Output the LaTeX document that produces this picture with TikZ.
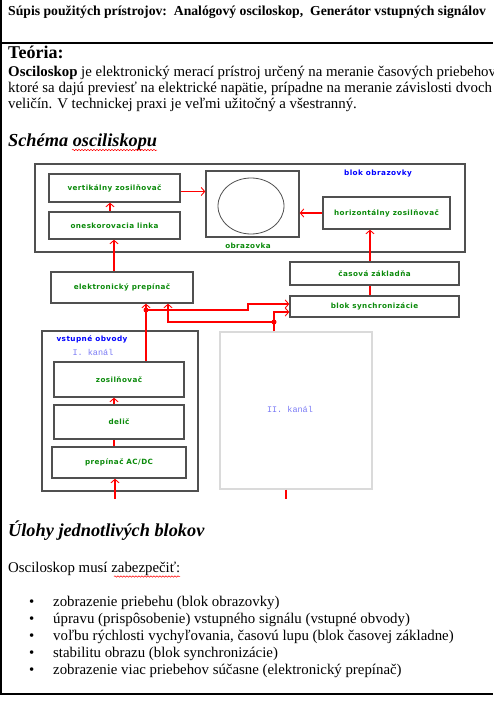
\documentclass[tikz,border=0pt]{standalone}
\usepackage{fontspec}
\setmainfont{Liberation Serif}
\newfontfamily\comic{DejaVu Sans}[LetterSpace=6]
\newfontfamily\cour{Liberation Mono}
\usetikzlibrary{arrows.meta,decorations.pathmorphing}
\definecolor{boxgray}{HTML}{505050}
\definecolor{lightbox}{HTML}{DADADA}
\definecolor{dgreen}{HTML}{0A8A0A}
\definecolor{kblue}{HTML}{7A7AF5}
\tikzset{
  blk/.style={draw=boxgray, line width=1.4pt, fill=white, inner sep=0pt},
  lbl/.style={font=\comic\bfseries\fontsize{7.2}{8}\selectfont, text=dgreen},
  bluelbl/.style={font=\comic\bfseries\fontsize{7.3}{8}\selectfont, text=blue},
  kan/.style={font=\cour\fontsize{8.5}{9}\selectfont, text=kblue},
  wire/.style={draw=red, line width=1.6pt},
  arr/.style={-{Straight Barb[length=3.5pt,width=8pt,line width=0.9pt]}},
  txt/.style={anchor=base west, inner sep=0pt, font=\fontsize{14.85}{16}\selectfont},
  head/.style={anchor=base west, inner sep=0pt, font=\bfseries\itshape\fontsize{18.3}{20}\selectfont},
  wavy/.style={draw=red, line width=0.5pt, decorate, decoration={snake, amplitude=0.7pt, segment length=3pt}},
  jdot/.style={circle, fill=red, inner sep=0pt, minimum size=5pt}
}
\begin{document}
\begin{tikzpicture}[x=1pt,y=-1pt]
\useasboundingbox (0,0) rectangle (493,723);
% page frame
\draw[line width=1.3pt] (1,-2) -- (1,694);
\draw[line width=1.3pt] (0,43) -- (493,43);
\draw[line width=1.3pt] (0,694) -- (493,694);
% header texts
\node[txt, font=\bfseries\fontsize{13.7}{16}\selectfont] (h1) at (8,15) {Súpis použitých prístrojov:\ \ Analógový osciloskop,\ \ Generátor vstupných signálov};
\node[txt, font=\bfseries\fontsize{18}{20}\selectfont] (h2) at (8,58) {Teória:};
\node[txt] (p1) at (8,76) {\textbf{Osciloskop} je elektronický merací prístroj určený na meranie časových priebehov};
\node[txt] (p2) at (8,92) {ktoré sa dajú previesť na elektrické napätie, prípadne na meranie závislosti dvoch};
\node[txt] (p3) at (8,108) {veličín. V technickej praxi je veľmi užitočný a všestranný.};
\node[head] (h3) at (8,146) {Schéma osciliskopu};
\draw[wavy] (72,150) -- (157,150);
% diagram: blok obrazovky
\node[blk, minimum width=430, minimum height=88] (bo) at (250,208) {};
\node[bluelbl] at (378,174) {blok obrazovky};
\node[blk, minimum width=131, minimum height=28] (vz) at (114.5,188) {};
\node[lbl] at (vz) {vertikálny zosilňovač};
\node[blk, minimum width=131, minimum height=27] (ol) at (114.5,225.5) {};
\node[lbl] at (ol) {oneskorovacia linka};
\node[blk, minimum width=93, minimum height=66] (obr) at (252.5,204) {};
\draw[boxgray, line width=0.8pt] (251,206) ellipse [x radius=33, y radius=28];
\node[lbl] at (248,246) {obrazovka};
\node[blk, minimum width=127, minimum height=32] (hz) at (386.5,213) {};
\node[lbl] at (hz) {horizontálny zosilňovač};
% time base and sync
\node[blk, minimum width=169, minimum height=23] (cz) at (374.5,273.5) {};
\node[lbl] at (cz) {časová základňa};
\node[blk, minimum width=169, minimum height=21] (bs) at (374.5,306.5) {};
\node[lbl] at (bs) {blok synchronizácie};
% electronic switch
\node[blk, minimum width=142, minimum height=31] (ep) at (122,287.5) {};
\node[lbl] at (ep) {elektronický prepínač};
% input circuits
\node[blk, minimum width=156, minimum height=160] (vo) at (120,411) {};
\node[bluelbl, anchor=west] at (53,339) {vstupné obvody};
\node[kan] at (93,352) {I. kanál};
\node[blk, minimum width=130, minimum height=35] (zo) at (119,379.5) {};
\node[lbl] at (zo) {zosilňovač};
\node[blk, minimum width=130, minimum height=34] (de) at (119,422) {};
\node[lbl] at (de) {delič};
\node[blk, minimum width=134, minimum height=31] (ac) at (119,462.5) {};
\node[lbl] at (ac) {prepínač AC/DC};
\node[draw=lightbox, line width=1.4pt, minimum width=152, minimum height=157, inner sep=0pt] (k2) at (296,410.5) {};
\node[kan] at (290,409) {II. kanál};
% coordinates
\coordinate (in1) at (115,499);
\coordinate (in2) at (286,499);
\coordinate (j1) at (146,310);
\coordinate (j2) at (274,322);
% wires
\draw[wire,arr] ([xshift=-4.5pt]ol.north) -- ([xshift=-4.5pt]vz.south);
\draw[wire,arr] ([xshift=-8pt]ep.north) -- ([xshift=-8pt]ep.north |- ol.south);
\draw[wire,arr] ([yshift=-3.5pt]vz.east) -- ([yshift=-3.5pt]vz.east -| obr.west);
\draw[wire,arr] (hz.west) -- (hz.west -| obr.east);
\draw[wire,arr] ([xshift=-4.5pt]cz.north) -- ([xshift=-4.5pt]cz.north |- hz.south);
\draw[wire] ([xshift=-4.5pt]bs.north) -- ([xshift=-4.5pt]cz.south);
\draw[wire,arr] ([xshift=-5pt]de.north) -- ([xshift=-5pt]zo.south);
\draw[wire] ([xshift=-5pt]ac.north) -- ([xshift=-5pt]de.south);
\draw[wire,arr] (in1) -- (in1 |- ac.south);
\draw[wire] (in2 |- k2.south) -- (in2);
\draw[wire,arr] (j1 |- zo.north) -- (j1 |- ep.south);
\draw[wire,arr] (j1) -- (248,310) -- (248,304) -- (bs.west |- 0,304);
\draw[wire] (j2 |- k2.north) -- (j2);
\draw[wire,arr] (j2) -- (168,322) -- (168,322 |- ep.south);
\draw[wire,arr] (j2) -- (274,312) -- (bs.west |- 0,312);
\node[jdot] at (j1) {};
\node[jdot] at (j2) {};
% tasks
\node[head] (h4) at (8,536) {Úlohy jednotlivých blokov};
\node[txt] (q0) at (8,572) {Osciloskop musí zabezpečiť:};
\draw[wavy] (114,576.5) -- (180,576.5);
\foreach \yy/\tt in {606/{zobrazenie priebehu (blok obrazovky)},
  623/{úpravu (prispôsobenie) vstupného signálu (vstupné obvody)},
  640/{voľbu rýchlosti vychyľovania, časovú lupu (blok časovej základne)},
  657/{stabilitu obrazu (blok synchronizácie)},
  674/{zobrazenie viac priebehov súčasne (elektronický prepínač)}}{
  \node[txt] at (29,\yy) {•};
  \node[txt] at (53,\yy) {\tt};
}
\end{tikzpicture}
\end{document}
